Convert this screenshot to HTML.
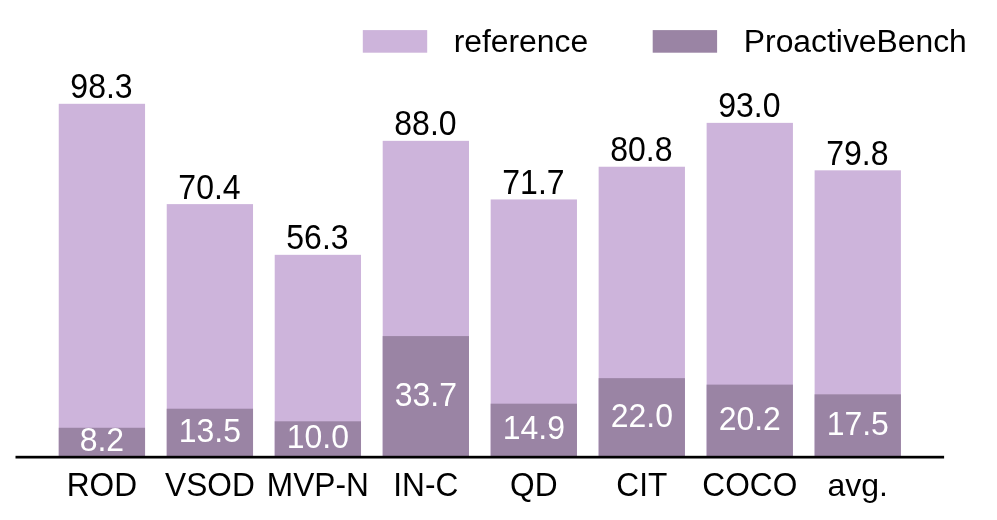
<!DOCTYPE html>
<html lang="en"><head><meta charset="utf-8"><title>ProactiveBench chart</title>
<style>
html,body{margin:0;padding:0;background:#fff;}
body{width:997px;height:520px;overflow:hidden;}
svg{display:block;}
text{font-family:"Liberation Sans",sans-serif;font-size:32px;}
.t{fill:#000;text-anchor:middle;}
.w{fill:#fff;text-anchor:middle;}
.l{fill:#000;text-anchor:start;font-size:31.85px;}
</style></head><body>
<svg width="997" height="520" viewBox="0 0 997 520">
<rect x="0" y="0" width="997" height="520" fill="#fff"/>
<rect x="58.75" y="103.80" width="86.30" height="353.45" fill="#cdb4db"/>
<rect x="58.75" y="427.77" width="86.30" height="29.48" fill="#9a84a4"/>
<text class="t" transform="translate(101.50 98.30) scale(1 1.09)" x="0" y="0">98.3</text>
<text class="w" transform="translate(101.90 451.36) scale(1 1.065)" x="0" y="0">8.2</text>
<text class="t" transform="translate(101.90 496.20) scale(0.99 1.05)" x="0" y="0">ROD</text>
<rect x="166.73" y="204.12" width="86.30" height="253.13" fill="#cdb4db"/>
<rect x="166.73" y="408.71" width="86.30" height="48.54" fill="#9a84a4"/>
<text class="t" transform="translate(209.48 198.62) scale(1 1.09)" x="0" y="0">70.4</text>
<text class="w" transform="translate(209.88 441.83) scale(1 1.065)" x="0" y="0">13.5</text>
<text class="t" transform="translate(209.88 496.20) scale(0.99 1.05)" x="0" y="0">VSOD</text>
<rect x="274.71" y="254.82" width="86.30" height="202.43" fill="#cdb4db"/>
<rect x="274.71" y="421.29" width="86.30" height="35.96" fill="#9a84a4"/>
<text class="t" transform="translate(317.46 249.32) scale(1 1.09)" x="0" y="0">56.3</text>
<text class="w" transform="translate(317.86 448.12) scale(1 1.065)" x="0" y="0">10.0</text>
<text class="t" transform="translate(317.86 496.20) scale(0.99 1.05)" x="0" y="0">MVP-N</text>
<rect x="382.69" y="140.84" width="86.30" height="316.41" fill="#cdb4db"/>
<rect x="382.69" y="336.08" width="86.30" height="121.17" fill="#9a84a4"/>
<text class="t" transform="translate(425.44 135.34) scale(1 1.09)" x="0" y="0">88.0</text>
<text class="w" transform="translate(425.84 405.51) scale(1 1.065)" x="0" y="0">33.7</text>
<text class="t" transform="translate(425.84 496.20) scale(0.99 1.05)" x="0" y="0">IN-C</text>
<rect x="490.67" y="199.45" width="86.30" height="257.80" fill="#cdb4db"/>
<rect x="490.67" y="403.68" width="86.30" height="53.57" fill="#9a84a4"/>
<text class="t" transform="translate(533.42 193.95) scale(1 1.09)" x="0" y="0">71.7</text>
<text class="w" transform="translate(533.82 439.31) scale(1 1.065)" x="0" y="0">14.9</text>
<text class="t" transform="translate(533.82 496.20) scale(0.99 1.05)" x="0" y="0">QD</text>
<rect x="598.65" y="166.73" width="86.30" height="290.52" fill="#cdb4db"/>
<rect x="598.65" y="378.15" width="86.30" height="79.10" fill="#9a84a4"/>
<text class="t" transform="translate(641.40 161.23) scale(1 1.09)" x="0" y="0">80.8</text>
<text class="w" transform="translate(641.80 426.55) scale(1 1.065)" x="0" y="0">22.0</text>
<text class="t" transform="translate(641.80 496.20) scale(0.99 1.05)" x="0" y="0">CIT</text>
<rect x="706.63" y="122.86" width="86.30" height="334.39" fill="#cdb4db"/>
<rect x="706.63" y="384.62" width="86.30" height="72.63" fill="#9a84a4"/>
<text class="t" transform="translate(749.38 117.36) scale(1 1.09)" x="0" y="0">93.0</text>
<text class="w" transform="translate(749.78 429.78) scale(1 1.065)" x="0" y="0">20.2</text>
<text class="t" transform="translate(749.78 496.20) scale(0.99 1.05)" x="0" y="0">COCO</text>
<rect x="814.61" y="170.32" width="86.30" height="286.93" fill="#cdb4db"/>
<rect x="814.61" y="394.33" width="86.30" height="62.92" fill="#9a84a4"/>
<text class="t" transform="translate(857.36 164.82) scale(1 1.09)" x="0" y="0">79.8</text>
<text class="w" transform="translate(857.76 434.64) scale(1 1.065)" x="0" y="0">17.5</text>
<text class="t" x="857.76" y="495.90">avg.</text>
<rect x="15.5" y="455.8" width="928.6" height="2.7" fill="#000"/>
<rect x="362.8" y="30.1" width="64.4" height="22.6" fill="#cdb4db"/>
<text class="l" x="453.65" y="52.25">reference</text>
<rect x="652.7" y="30.1" width="64.4" height="22.6" fill="#9a84a4"/>
<text class="l" x="743.8" y="52.2">ProactiveBench</text>
</svg></body></html>
